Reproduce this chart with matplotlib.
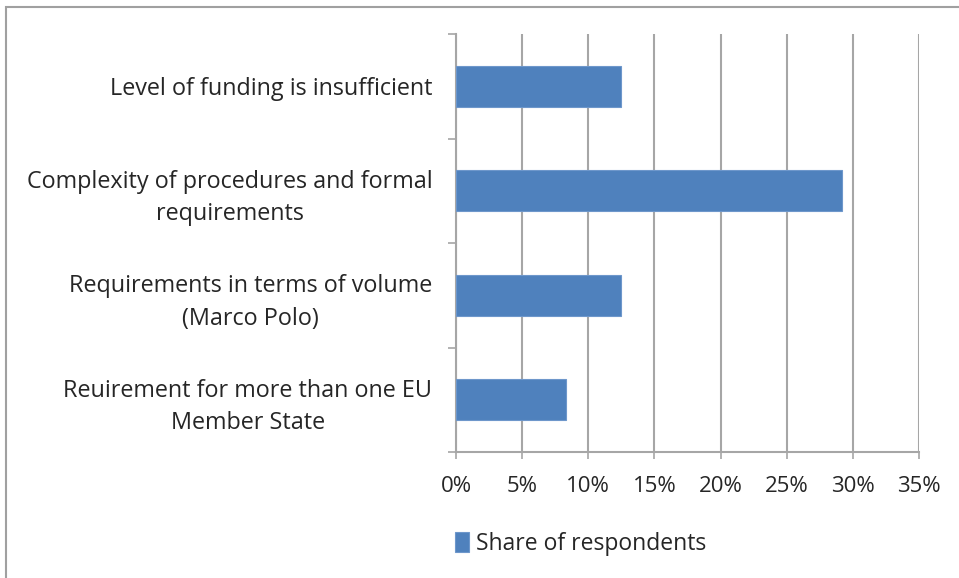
import matplotlib
matplotlib.use("Agg")
import matplotlib.pyplot as plt
from matplotlib.patches import Rectangle
from matplotlib.ticker import FuncFormatter, FixedLocator

# ── Data ─────────────────────────────────────────────
categories = [
    "Level of funding is insufficient",
    "Complexity of procedures and formal\nrequirements",
    "Requirements in terms of volume\n(Marco Polo)",
    "Reuirement for more than one EU\nMember State",
]
shares = [0.125, 0.292, 0.125, 0.083]
series_name = "Share of respondents"
x_ticks = [0.0, 0.05, 0.10, 0.15, 0.20, 0.25, 0.30, 0.35]

BAR_COLOR = "#4F81BD"
GRID_COLOR = "#A6A6A6"
TEXT_COLOR = "#262626"
FS = 16.8

plt.rcParams["font.family"] = ["Open Sans", "DejaVu Sans"]

fig = plt.figure(figsize=(9.59, 5.78), dpi=100)
ax = fig.add_axes([456 / 959, 1 - 452 / 578, (919 - 456) / 959, (452 - 34) / 578])

y = list(range(len(categories)))
ax.barh(y, shares, height=0.39, color=BAR_COLOR, edgecolor="#6E97CB",
        linewidth=0.8, label=series_name, zorder=3)

ax.set_xlim(0, 0.35)
ax.set_ylim(len(categories) - 0.5, -0.5)

# x axis
ax.xaxis.set_major_locator(FixedLocator(x_ticks))
ax.xaxis.set_major_formatter(FuncFormatter(lambda v, _: f"{v * 100:.0f}%"))
ax.tick_params(axis="x", which="major", direction="out", length=5, width=1.2,
               color=GRID_COLOR, labelsize=16, labelcolor=TEXT_COLOR, pad=12)
ax.grid(axis="x", color=GRID_COLOR, linewidth=1.5, zorder=0)

# y axis: boundary ticks, labels at centers
ax.yaxis.set_major_locator(FixedLocator([i - 0.5 for i in range(len(categories) + 1)]))
ax.yaxis.set_major_formatter(FuncFormatter(lambda v, _: ""))
ax.yaxis.set_minor_locator(FixedLocator(y))
ax.set_yticklabels(categories, minor=True)
ax.tick_params(axis="y", which="major", direction="out", length=6, width=1.2,
               color=GRID_COLOR)
ax.tick_params(axis="y", which="minor", length=0, labelsize=FS,
               labelcolor=TEXT_COLOR, pad=17)
for lbl in ax.get_yticklabels(minor=True):
    lbl.set_multialignment("center")
    lbl.set_linespacing(1.47)

for side in ["top", "right"]:
    ax.spines[side].set_visible(False)
for side in ["left", "bottom"]:
    ax.spines[side].set_color(GRID_COLOR)
    ax.spines[side].set_linewidth(1.5)

# legend
handles, labels = ax.get_legend_handles_labels()
fig.legend(handles, labels, loc="center", bbox_to_anchor=(0.605, 0.059),
           frameon=False, fontsize=16.5, handlelength=0.62, handleheight=1.0,
           handletextpad=0.3, labelcolor=TEXT_COLOR)

# outer chart border (left and top edges visible)
fig.patches.append(Rectangle((6 / 959, -0.1), 1.2, 1.1 - 7 / 578,
                             transform=fig.transFigure, fill=False,
                             edgecolor="#A0A0A0", linewidth=1.5))

fig.savefig("out.png", dpi=100, facecolor="white")
